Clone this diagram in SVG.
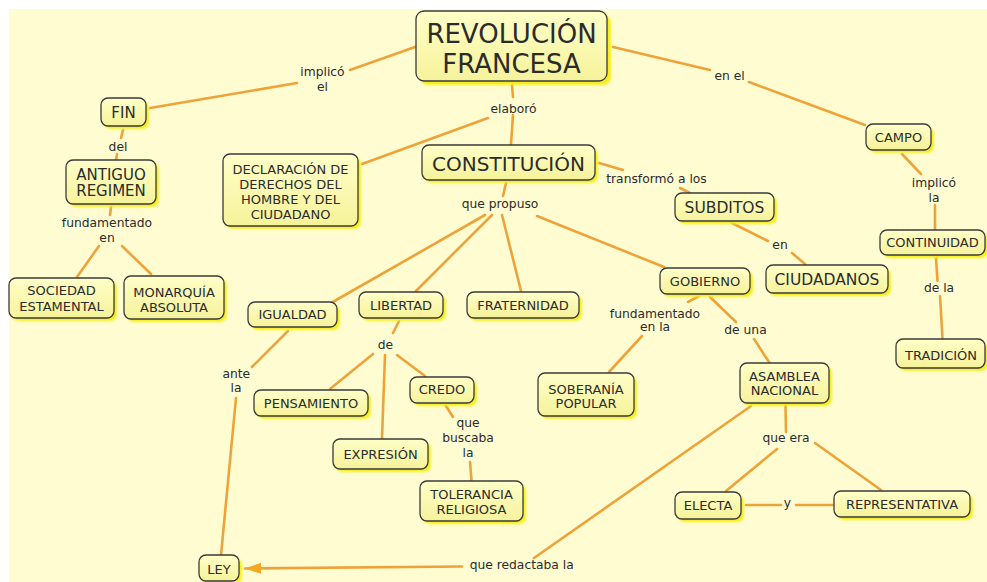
<svg xmlns="http://www.w3.org/2000/svg" width="987" height="582" viewBox="0 0 987 582">
<defs>
<linearGradient id="nf" x1="0" y1="0" x2="0" y2="1">
<stop offset="0" stop-color="#FFFFC8"/>
<stop offset="1" stop-color="#F6F29A"/>
</linearGradient>
<filter id="bl" x="-20%" y="-20%" width="140%" height="140%"><feGaussianBlur stdDeviation="1"/></filter>
<marker id="ah" markerWidth="18" markerHeight="12" refX="16" refY="6" orient="auto" markerUnits="userSpaceOnUse">
<path d="M0,0.5 L16,6 L0,11.5 Z" fill="#F5A623"/>
</marker>
<style>
.sh{fill:#F7EE1E;filter:url(#bl)}
.bx{fill:url(#nf);stroke:#3a3a3a;stroke-width:1.3}
.t{font-family:"DejaVu Sans",Verdana,sans-serif;fill:#2b2b2b;text-anchor:middle}
.n13{font-size:13px}
.lp{font-family:"DejaVu Sans",Verdana,sans-serif;fill:#2b2b2b;text-anchor:middle;font-size:12.3px}
.c line{stroke:#EEA338;stroke-width:2.6;stroke-linecap:round}
</style>
</defs>
<rect x="0" y="0" width="987" height="582" fill="#ffffff"/>
<rect x="9" y="9" width="978" height="573" fill="#FFFCD2"/>

<g id="connectors" class="c">
<line x1="350" y1="70" x2="415" y2="47"/>
<line x1="150" y1="108" x2="297" y2="83"/>
<line x1="512" y1="85" x2="513" y2="97"/>
<line x1="513" y1="115" x2="511" y2="144"/>
<line x1="488" y1="118" x2="362" y2="164"/>
<line x1="613" y1="47" x2="710" y2="70"/>
<line x1="749" y1="82" x2="865" y2="125"/>
<line x1="123" y1="130" x2="121" y2="138"/>
<line x1="117" y1="154" x2="116" y2="160"/>
<line x1="111" y1="207" x2="110" y2="215"/>
<line x1="99" y1="246" x2="77" y2="277"/>
<line x1="122" y1="246" x2="151" y2="274"/>
<line x1="506" y1="183" x2="503" y2="196"/>
<line x1="485" y1="215" x2="331" y2="303"/>
<line x1="492" y1="215" x2="416" y2="291"/>
<line x1="502" y1="215" x2="521" y2="291"/>
<line x1="537" y1="216" x2="664" y2="267"/>
<line x1="599" y1="163" x2="623" y2="170"/>
<line x1="680" y1="188" x2="690" y2="193"/>
<line x1="732" y1="223" x2="768" y2="241"/>
<line x1="792" y1="253" x2="805" y2="264"/>
<line x1="902" y1="154" x2="921" y2="174"/>
<line x1="935" y1="205" x2="935" y2="229"/>
<line x1="936" y1="258" x2="937.5" y2="281"/>
<line x1="940" y1="296" x2="942.5" y2="338"/>
<line x1="699" y1="296" x2="688" y2="302"/>
<line x1="642" y1="336" x2="609" y2="372"/>
<line x1="710" y1="297" x2="736" y2="322"/>
<line x1="754" y1="339" x2="769" y2="362"/>
<line x1="785.5" y1="405" x2="786" y2="432"/>
<line x1="777" y1="449" x2="726" y2="491"/>
<line x1="815" y1="443" x2="881" y2="490"/>
<line x1="746" y1="505" x2="781" y2="505"/>
<line x1="796" y1="505" x2="833" y2="505"/>
<line x1="288" y1="331" x2="252" y2="367"/>
<line x1="236" y1="398" x2="221" y2="555"/>
<line x1="399" y1="321" x2="393" y2="333"/>
<line x1="373" y1="354" x2="330" y2="389"/>
<line x1="385" y1="355" x2="382" y2="438"/>
<line x1="397" y1="355" x2="425" y2="376"/>
<line x1="446" y1="406" x2="453" y2="417"/>
<line x1="470" y1="462" x2="471.5" y2="480"/>
<line x1="751" y1="406" x2="534" y2="558"/>
<line x1="462" y1="566.5" x2="245" y2="568.5" marker-end="url(#ah)"/>
</g>

<g id="rev"><rect class="sh" x="420" y="15" width="191" height="70" rx="8"/><rect class="bx" x="416" y="11" width="191" height="70" rx="8"/>
<text class="t" font-size="26" x="511.5" y="43">REVOLUCIÓN</text><text class="t" font-size="26" x="511.5" y="72.5">FRANCESA</text></g>
<g id="fin"><rect class="sh" x="104" y="101" width="45" height="28" rx="7"/><rect class="bx" x="101" y="98" width="45" height="28" rx="7"/>
<text class="t" font-size="15" x="123.5" y="117.5">FIN</text></g>
<g id="antiguo"><rect class="sh" x="69" y="163" width="90" height="44" rx="7"/><rect class="bx" x="66" y="160" width="90" height="44" rx="7"/>
<text class="t" font-size="15" x="111" y="179.5">ANTIGUO</text><text class="t" font-size="15" x="111" y="196">REGIMEN</text></g>
<g id="declaracion"><rect class="sh" x="226" y="157" width="135" height="72" rx="7"/><rect class="bx" x="223" y="154" width="135" height="72" rx="7"/>
<text class="t n13" x="290.5" y="174">DECLARACIÓN DE</text><text class="t n13" x="290.5" y="189">DERECHOS DEL</text><text class="t n13" x="290.5" y="204">HOMBRE Y DEL</text><text class="t n13" x="290.5" y="219">CIUDADANO</text></g>
<g id="constitucion"><rect class="sh" x="425" y="148" width="173" height="35" rx="7"/><rect class="bx" x="422" y="145" width="173" height="35" rx="7"/>
<text class="t" font-size="20" x="508.5" y="171">CONSTITUCIÓN</text></g>
<g id="campo"><rect class="sh" x="869" y="127" width="65" height="26" rx="7"/><rect class="bx" x="866" y="124" width="65" height="26" rx="7"/>
<text class="t n13" x="898.5" y="142">CAMPO</text></g>
<g id="subditos"><rect class="sh" x="678" y="196" width="99" height="28" rx="7"/><rect class="bx" x="675" y="193" width="99" height="28" rx="7"/>
<text class="t" font-size="15.5" x="724.5" y="212.7">SUBDITOS</text></g>
<g id="continuidad"><rect class="sh" x="883" y="233" width="105" height="25" rx="7"/><rect class="bx" x="880" y="230" width="105" height="25" rx="7"/>
<text class="t n13" x="932.5" y="247.3">CONTINUIDAD</text></g>
<g id="ciudadanos"><rect class="sh" x="769" y="268" width="122" height="28" rx="7"/><rect class="bx" x="766" y="265" width="122" height="28" rx="7"/>
<text class="t" font-size="15.5" x="827" y="285">CIUDADANOS</text></g>
<g id="gobierno"><rect class="sh" x="663" y="271" width="90" height="26" rx="7"/><rect class="bx" x="660" y="268" width="90" height="26" rx="7"/>
<text class="t n13" x="705" y="285.7">GOBIERNO</text></g>
<g id="tradicion"><rect class="sh" x="899" y="342" width="89" height="29" rx="7"/><rect class="bx" x="896" y="339" width="89" height="29" rx="7"/>
<text class="t n13" x="941" y="360">TRADICIÓN</text></g>
<g id="sociedad"><rect class="sh" x="12" y="281" width="105" height="40" rx="7"/><rect class="bx" x="9" y="278" width="105" height="40" rx="7"/>
<text class="t n13" x="61.5" y="295.3">SOCIEDAD</text><text class="t n13" x="61.5" y="310.7">ESTAMENTAL</text></g>
<g id="monarquia"><rect class="sh" x="127" y="279" width="100" height="43" rx="7"/><rect class="bx" x="124" y="276" width="100" height="43" rx="7"/>
<text class="t n13" x="174" y="296.5">MONARQUÍA</text><text class="t n13" x="174" y="311.7">ABSOLUTA</text></g>
<g id="igualdad"><rect class="sh" x="251" y="305" width="89" height="25" rx="7"/><rect class="bx" x="248" y="302" width="89" height="25" rx="7"/>
<text class="t n13" x="292.5" y="319.3">IGUALDAD</text></g>
<g id="libertad"><rect class="sh" x="362" y="295" width="84" height="26" rx="7"/><rect class="bx" x="359" y="292" width="84" height="26" rx="7"/>
<text class="t n13" x="401" y="310">LIBERTAD</text></g>
<g id="fraternidad"><rect class="sh" x="470" y="295" width="112" height="26" rx="7"/><rect class="bx" x="467" y="292" width="112" height="26" rx="7"/>
<text class="t n13" x="523" y="310">FRATERNIDAD</text></g>
<g id="credo"><rect class="sh" x="413" y="380" width="64" height="26" rx="7"/><rect class="bx" x="410" y="377" width="64" height="26" rx="7"/>
<text class="t n13" x="442" y="394.3">CREDO</text></g>
<g id="pensamiento"><rect class="sh" x="257" y="393" width="114" height="26" rx="7"/><rect class="bx" x="254" y="390" width="114" height="26" rx="7"/>
<text class="t n13" x="311" y="407.7">PENSAMIENTO</text></g>
<g id="expresion"><rect class="sh" x="336" y="442" width="95" height="30" rx="7"/><rect class="bx" x="333" y="439" width="95" height="30" rx="7"/>
<text class="t n13" x="380.5" y="459.3">EXPRESIÓN</text></g>
<g id="soberania"><rect class="sh" x="541" y="376" width="96" height="43" rx="7"/><rect class="bx" x="538" y="373" width="96" height="43" rx="7"/>
<text class="t n13" x="586" y="393.7">SOBERANÍA</text><text class="t n13" x="586" y="408">POPULAR</text></g>
<g id="asamblea"><rect class="sh" x="743" y="366" width="89" height="40" rx="7"/><rect class="bx" x="740" y="363" width="89" height="40" rx="7"/>
<text class="t n13" x="784.5" y="380.7">ASAMBLEA</text><text class="t n13" x="784.5" y="395.3">NACIONAL</text></g>
<g id="tolerancia"><rect class="sh" x="423" y="484" width="103" height="40" rx="7"/><rect class="bx" x="420" y="481" width="103" height="40" rx="7"/>
<text class="t n13" x="471.5" y="498.7">TOLERANCIA</text><text class="t n13" x="471.5" y="513.7">RELIGIOSA</text></g>
<g id="electa"><rect class="sh" x="678" y="495" width="66" height="27" rx="7"/><rect class="bx" x="675" y="492" width="66" height="27" rx="7"/>
<text class="t n13" x="708" y="509.7">ELECTA</text></g>
<g id="representativa"><rect class="sh" x="837" y="494" width="136" height="26" rx="7"/><rect class="bx" x="834" y="491" width="136" height="26" rx="7"/>
<text class="t n13" x="902" y="508.7">REPRESENTATIVA</text></g>
<g id="ley"><rect class="sh" x="202" y="558" width="40" height="26" rx="7"/><rect class="bx" x="199" y="555" width="40" height="26" rx="7"/>
<text class="t n13" x="219" y="573.7">LEY</text></g>

<g id="linking-phrases">
<text class="lp" x="322.5" y="76">implicó</text><text class="lp" x="322.5" y="90.7">el</text>
<text class="lp" x="513.5" y="112.5">elaboró</text>
<text class="lp" x="729.5" y="80">en el</text>
<text class="lp" x="118" y="150.7">del</text>
<text class="lp" x="107" y="226.7">fundamentado</text><text class="lp" x="107" y="242.3">en</text>
<text class="lp" x="500" y="208">que propuso</text>
<text class="lp" x="656.5" y="183.3">transformó a los</text>
<text class="lp" x="780" y="249">en</text>
<text class="lp" x="934" y="187.3">implicó</text><text class="lp" x="934" y="202.3">la</text>
<text class="lp" x="939" y="291.7">de la</text>
<text class="lp" x="655" y="317.7">fundamentado</text><text class="lp" x="655" y="331">en la</text>
<text class="lp" x="745.5" y="334">de una</text>
<text class="lp" x="786" y="442">que era</text>
<text class="lp" x="787.5" y="507">y</text>
<text class="lp" x="236.3" y="378.3">ante</text><text class="lp" x="236" y="392">la</text>
<text class="lp" x="385.5" y="349.3">de</text>
<text class="lp" x="468" y="427">que</text><text class="lp" x="468" y="442">buscaba</text><text class="lp" x="468" y="457">la</text>
<text class="lp" x="521.7" y="569.3">que redactaba la</text>
</g>
</svg>
